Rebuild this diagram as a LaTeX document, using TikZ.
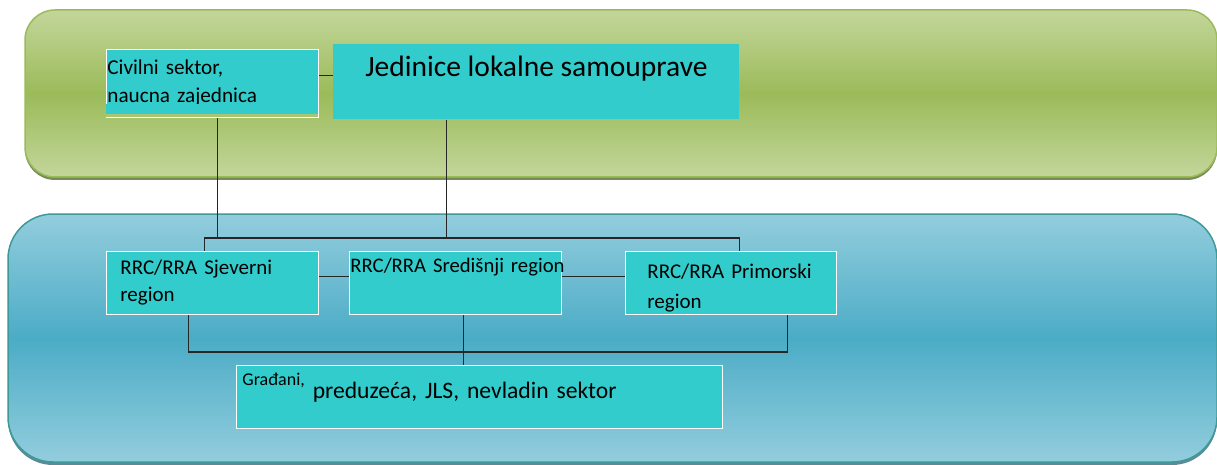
\documentclass[tikz,border=0pt]{standalone}
\usepackage{fontspec}
\setmainfont{Carlito}
\definecolor{panelgreen}{HTML}{9BBB59}
\definecolor{panelgreenlight}{HTML}{C3D69B}
\definecolor{panelgreenshadow}{HTML}{7A8B5A}
\definecolor{panelblue}{HTML}{4BACC6}
\definecolor{panelbluelight}{HTML}{93CDDD}
\definecolor{panelblueedge}{HTML}{3D9A98}
\definecolor{panelblueshadow}{HTML}{5E8A96}
\definecolor{boxcyan}{HTML}{33CCCC}
\begin{document}
\begin{tikzpicture}[x=1pt,y=-1pt,
  box/.style={fill=boxcyan,draw=white,line width=0.8pt,inner sep=0pt,anchor=north west},
  link/.style={line width=1.1pt,draw=black!85}]
\useasboundingbox (0,0) rectangle (1217,465);
\fill[panelgreenshadow,rounded corners=30pt] (25,13) rectangle (1217,180);
\shadedraw[draw=panelgreen,line width=1.5pt,top color=panelgreenlight,bottom color=panelgreenlight,middle color=panelgreen,rounded corners=30pt] (25,10) rectangle (1217,177);
\fill[panelblueshadow,rounded corners=45pt] (8,217) rectangle (1217,465);
\shadedraw[draw=panelblueedge,line width=1.5pt,top color=panelbluelight,bottom color=panelbluelight,middle color=panelblue,rounded corners=45pt] (8,214) rectangle (1217,462);
\coordinate (upbus) at (0,238);
\coordinate (lowbus) at (0,352);
\node[box,minimum width=212pt,minimum height=68pt,inner xsep=1pt,text width=210pt,align=left,font=\fontsize{21.2}{28}\selectfont] (civil) at (106,49) {Civilni sektor,\\naucna zajednica};
\fill[boxcyan] ([xshift=0.4pt,yshift=4pt]civil.south west) rectangle ([xshift=-0.4pt,yshift=13.5pt]civil.south east);
\fill[panelgreen!85!white] ([xshift=0.4pt,yshift=0.4pt]civil.south west) rectangle ([xshift=-0.4pt,yshift=4pt]civil.south east);
\node[box,draw=none,minimum width=406pt,text height=32pt,text depth=43pt,font=\fontsize{29.5}{32}\selectfont] (jed) at (333,44) {Jedinice lokalne samouprave};
\node[box,minimum width=212pt,minimum height=63pt,inner xsep=14pt,text width=184pt,align=left,font=\fontsize{21}{27}\selectfont] (sjev) at (106,251) {RRC/RRA Sjeverni\\region};
\node[box,minimum width=212pt,inner xsep=1pt,text width=210pt,align=left,text height=21pt,text depth=42pt,font=\fontsize{20.7}{24}\selectfont] (sred) at (349,251) {\mbox{RRC/RRA Središnji region}};
\node[box,minimum width=211pt,minimum height=63pt,inner xsep=22pt,text width=167pt,align=left,font=\fontsize{21}{30}\selectfont] (prim) at (625,251) {\rule{0pt}{24pt}RRC/RRA Primorski\\region};
\node[box,minimum width=486pt,inner xsep=6pt,text width=474pt,align=left,text height=33pt,text depth=30pt,font=\fontsize{23.6}{28}\selectfont] (grad) at (236,365) {\raisebox{13pt}{\fontsize{18}{20}\selectfont Građani,} preduzeća, JLS, nevladin sektor};
\draw[link] ([yshift=8pt]civil.east) -- ([yshift=8pt]civil.east -| jed.west);
\draw[link] ([xshift=5pt]civil.south) -- ([xshift=5pt]civil.south |- upbus);
\draw[link] ([xshift=-90pt]jed.south) -- ([xshift=-90pt]jed.south |- upbus);
\draw[link] ([xshift=-8pt]sjev.north) |- ([xshift=8.5pt]prim.north |- upbus) -- ([xshift=8.5pt]prim.north);
\draw[link] ([yshift=6.5pt]sjev.east) -- ([yshift=6.5pt]sred.west);
\draw[link] ([yshift=6.5pt]sred.east) -- ([yshift=6.5pt]prim.west);
\draw[link] ([xshift=-24pt]sjev.south) |- ([xshift=56.5pt]prim.south |- lowbus) -- ([xshift=56.5pt]prim.south);
\draw[link] ([xshift=8pt]sred.south) -- ([xshift=8pt]sred.south |- grad.north);
\end{tikzpicture}
\end{document}
